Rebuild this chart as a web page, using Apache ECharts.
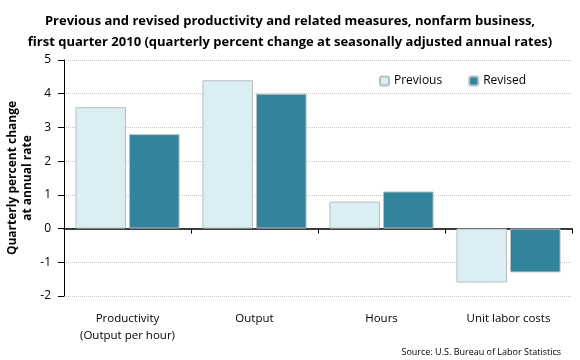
<!DOCTYPE html>
<html><head><meta charset="utf-8">
<script src="https://cdn.jsdelivr.net/npm/echarts@6/dist/echarts.min.js"></script>
<style>html,body{margin:0;padding:0;background:#fff}#c{width:580px;height:360px}</style>
</head><body><div id="c"></div>
<script>
var categories = ['Productivity\n(Output per hour)', 'Output', 'Hours', 'Unit labor costs'];
var previous = [3.6, 4.4, 0.8, -1.6];
var revised = [2.8, 4.0, 1.1, -1.3];
var yTicks = [-2, -1, 0, 1, 2, 3, 4, 5];

var F = '"Open Sans", sans-serif';
var G = {left: 64, right: 8, top: 60, bottom: 64, outerBoundsMode: 'none'};
var chart = echarts.init(document.getElementById('c'));
chart.setOption({
  animation: false,
  title: [{
    text: 'Previous and revised productivity and related measures, nonfarm business,\nfirst quarter 2010 (quarterly percent change at seasonally adjusted annual rates)',
    left: 'center', top: 6,
    textStyle: {fontFamily: F, fontSize: 13, fontWeight: 'bold', color: '#000', lineHeight: 21}
  }, {
    text: 'Source: U.S. Bureau of Labor Statistics',
    right: 14, top: 343,
    textStyle: {fontFamily: F, fontSize: 9, fontWeight: 'normal', color: '#000'}
  }],
  legend: {
    data: ['Previous', 'Revised'],
    left: 374, top: 70, itemWidth: 9, itemHeight: 9, itemGap: 26,
    textStyle: {fontFamily: F, fontSize: 12, color: '#000'}
  },
  grid: [G, G],
  xAxis: [{
    gridIndex: 0, type: 'category', data: categories,
    axisLine: {show: true, onZero: true, lineStyle: {color: '#000', width: 1.5}},
    axisTick: {show: true, length: 5, lineStyle: {color: '#000'}},
    axisLabel: {show: false}
  }, {
    gridIndex: 1, type: 'category', data: categories,
    axisLine: {show: false}, axisTick: {show: false},
    axisLabel: {interval: 0, fontFamily: F, fontSize: 11.5, color: '#000', lineHeight: 17, margin: 14}
  }],
  yAxis: [{
    gridIndex: 0, type: 'value', min: -2, max: 5, interval: 1,
    axisLine: {show: true, lineStyle: {color: '#000'}},
    axisTick: {show: true, length: 6, lineStyle: {color: '#000'}},
    axisLabel: {fontFamily: F, fontSize: 12, color: '#000', margin: 13,
      formatter: function (v) { return yTicks.indexOf(v) >= 0 ? String(v) : ''; }},
    splitLine: {show: true, lineStyle: {color: '#c8c8c8', type: 'dotted'}},
    name: 'Quarterly percent change\nat annual rate',
    nameLocation: 'middle', nameGap: 29, nameRotate: 90, nameMoveOverlap: false,
    nameTextStyle: {fontFamily: F, fontSize: 12, fontWeight: 'bold', color: '#000', lineHeight: 15}
  }, {
    gridIndex: 1, type: 'value', min: -2, max: 5, show: false
  }],
  series: [{
    name: 'Previous', type: 'bar', data: previous, barGap: '6%', barCategoryGap: '18%',
    itemStyle: {color: '#DAEEF3', borderColor: '#B8BFC2', borderWidth: 1}
  }, {
    name: 'Revised', type: 'bar', data: revised,
    itemStyle: {color: '#31849B', borderColor: '#B8BFC2', borderWidth: 1}
  }]
});
</script></body></html>
